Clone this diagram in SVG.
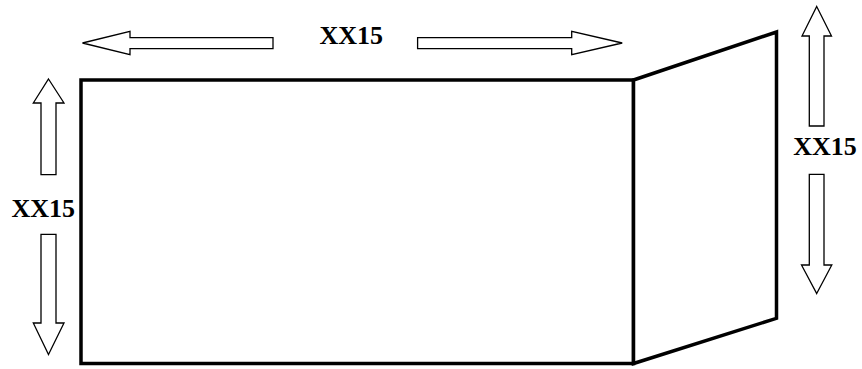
<svg xmlns="http://www.w3.org/2000/svg" width="862" height="369" viewBox="0 0 862 369">
<style>
.frame{fill:#fff;stroke:#000;stroke-width:3.5;stroke-linejoin:miter}
.arr{fill:#fff;stroke:#000;stroke-width:1.3;stroke-linejoin:miter}
.lbl{font-family:"Liberation Serif","Times New Roman",serif;font-weight:bold;font-size:26px;fill:#000;text-anchor:middle}
</style>
<rect width="862" height="369" fill="#fff"/>
<g id="box">
<rect class="frame" x="81" y="80" width="552.5" height="283.5"/>
</g>
<g id="side-panel">
<polygon class="frame" points="633.5,80 776.5,32 776.5,318.3 633.5,363.5"/>
</g>
<g id="dimension-arrows">
<polygon class="arr" points="82.5,43 130,31.3 130,37.6 273,37.6 273,48.6 130,48.6 130,54.7"/>
<polygon class="arr" points="622.2,43 571.7,31.3 571.7,37.6 417.6,37.6 417.6,48.6 571.7,48.6 571.7,54.7"/>
<polygon class="arr" points="48.5,79 64,103 56,103 56,174.6 41,174.6 41,103 33.3,103"/>
<polygon class="arr" points="48.5,354.5 64,323 56,323 56,234.4 41,234.4 41,323 33.3,323"/>
<polygon class="arr" points="816.7,6.5 831.5,36 824,36 824,126 809.3,126 809.3,36 802,36"/>
<polygon class="arr" points="816.7,293.5 831.8,265 824,265 824,174.4 809.3,174.4 809.3,265 801.5,265"/>
</g>
<g id="labels">
<text class="lbl" x="351.3" y="44.3">XX15</text>
<text class="lbl" x="43.3" y="216.7">XX15</text>
<text class="lbl" x="825" y="155">XX15</text>
</g>
</svg>
